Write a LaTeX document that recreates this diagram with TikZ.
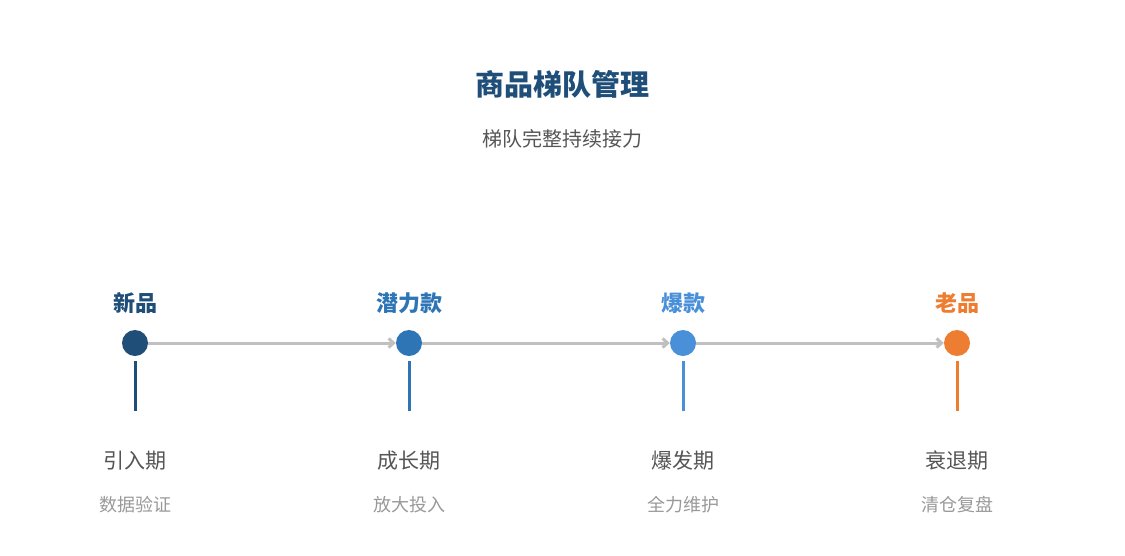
\documentclass[tikz,border=0pt]{standalone}
\usepackage{fontspec}
\setmainfont{Noto Sans CJK SC}
\usetikzlibrary{arrows.meta}

\definecolor{newC}{HTML}{1F4E79}
\definecolor{potC}{HTML}{2E75B6}
\definecolor{hotC}{HTML}{4A90D9}
\definecolor{oldC}{HTML}{ED7D31}
\definecolor{lineC}{HTML}{C0C0C0}
\definecolor{textC}{HTML}{555555}
\definecolor{noteC}{HTML}{999999}

\tikzset{
	dot/.style={circle,fill=#1,minimum size=26pt,inner sep=0pt},
	stem/.style={line width=3pt,#1},
	flow/.style={-{Straight Barb[length=5pt,width=9pt]},line width=3pt,lineC},
	tag/.style={text=#1,font=\fontsize{22pt}{22pt}\selectfont\bfseries},
	stage/.style={text=textC,font=\fontsize{21pt}{21pt}\selectfont},
	note/.style={text=noteC,font=\fontsize{18pt}{18pt}\selectfont}
}

\begin{document}
\begin{tikzpicture}[x=1pt,y=-1pt]
		\useasboundingbox[fill=white] (0,0) rectangle (1125,555);

		\coordinate(S1) at	(135,343);
		\coordinate(S2) at	(409,343);
		\coordinate(S3) at	(683,343);
		\coordinate(S4) at	(957,343);

		\node[text=newC,font=\fontsize{29pt}{29pt}\selectfont\bfseries] (title) at (562,84) {商品梯队管理};
		\node[text=textC,font=\fontsize{20pt}{20pt}\selectfont] (subtitle) at (562,139) {梯队完整持续接力};

		\node[dot=newC] (D1) at (S1) {};
		\node[dot=potC] (D2) at (S2) {};
		\node[dot=hotC] (D3) at (S3) {};
		\node[dot=oldC] (D4) at (S4) {};

		\draw[flow] (D1) -- (D2);
		\draw[flow] (D2) -- (D3);
		\draw[flow] (D3) -- (D4);

		\coordinate(T1) at	(135,361);
		\coordinate(T2) at	(409,361);
		\coordinate(T3) at	(683,361);
		\coordinate(T4) at	(957,361);
		\coordinate(B1) at	(135,411);
		\coordinate(B2) at	(409,411);
		\coordinate(B3) at	(683,411);
		\coordinate(B4) at	(957,411);

		\draw[stem=newC] (T1) -- (B1);
		\draw[stem=potC] (T2) -- (B2);
		\draw[stem=hotC] (T3) -- (B3);
		\draw[stem=oldC] (T4) -- (B4);

		\node[tag=newC] (tag1) at (135,303) {新品};
		\node[tag=potC] (tag2) at (409,303) {潜力款};
		\node[tag=hotC] (tag3) at (683,303) {爆款};
		\node[tag=oldC] (tag4) at (957,303) {老品};

		\node[stage] (stage1) at (135,461) {引入期};
		\node[stage] (stage2) at (409,461) {成长期};
		\node[stage] (stage3) at (683,461) {爆发期};
		\node[stage] (stage4) at (957,461) {衰退期};

		\node[note] (note1) at (135,505) {数据验证};
		\node[note] (note2) at (409,505) {放大投入};
		\node[note] (note3) at (683,505) {全力维护};
		\node[note] (note4) at (957,505) {清仓复盘};
\end{tikzpicture}
\end{document}
